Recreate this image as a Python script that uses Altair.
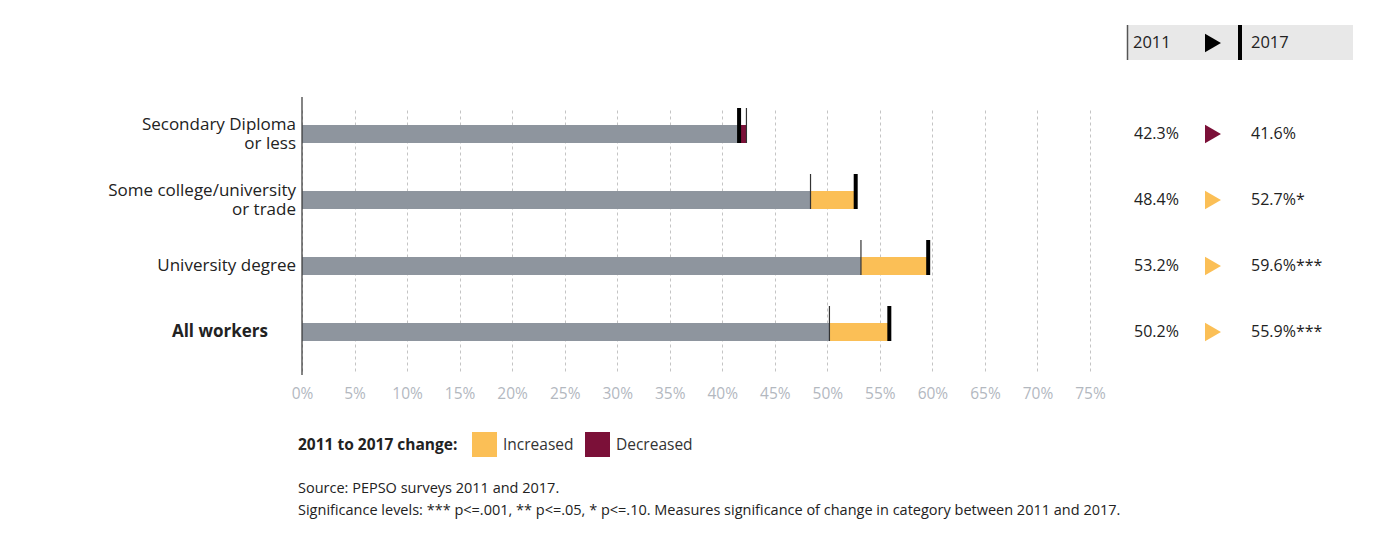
import altair as alt
import pandas as pd

# ---------------- data ----------------
keys = ["sec", "some", "univ", "all"]
labels = ["Secondary Diploma\nor less", "Some college/university\nor trade", "University degree", "All workers"]
v2011 = [42.3, 48.4, 53.2, 50.2]
v2017 = [41.6, 52.7, 59.6, 55.9]
sig = ["", "*", "***", "***"]
x_ticks = list(range(0, 80, 5))
change_names = ["Increased", "Decreased"]
change_colors = ["#fbbf56", "#7b1038"]
legend_title = "2011 to 2017 change:"
header_years = ["2011", "2017"]
source_lines = [
    "Source: PEPSO surveys 2011 and 2017.",
    "Significance levels: *** p<=.001, ** p<=.05, * p<=.10. Measures significance of change in category between 2011 and 2017.",
]

FONT = "Open Sans"
GRAY = "#8e959e"

df = pd.DataFrame({
    "key": keys,
    "label": labels,
    "v2011": v2011,
    "v2017": v2017,
})
df["low"] = df[["v2011", "v2017"]].min(axis=1)
df["high"] = df[["v2011", "v2017"]].max(axis=1)
df["change"] = ["Increased" if b > a else "Decreased" for a, b in zip(v2011, v2017)]
df["t2011"] = [f"{v:.1f}%" for v in v2011]
df["t2017"] = [f"{v:.1f}%{s}" for v, s in zip(v2017, sig)]
df["multiline"] = ["\n" in s for s in labels]

hdr = pd.DataFrame({"y1": [header_years[0]], "y2": [header_years[1]]})
src = pd.DataFrame({"txt": ["\n".join(source_lines)]})

base = alt.Chart(df)

Y = alt.Y("key:N", scale=alt.Scale(type="band", domain=keys, range=[4, 268],
                                   paddingInner=0, paddingOuter=0), axis=None)
xscale = alt.Scale(domain=[0, 75], nice=False, zero=True)
X = alt.X(
    "low:Q",
    scale=xscale,
    axis=alt.Axis(
        values=x_ticks, labelExpr="datum.value + '%'", grid=True, gridDash=[3, 3],
        gridColor="#c4c4c4", gridWidth=1, domain=False, ticks=False, labelFlush=False,
        labelColor="#b3b8bf", labelFontSize=15.5, labelPadding=11, title=None, labelFont=FONT,
    ),
)

gray_bar = base.mark_bar(size=18, color=GRAY).encode(x=X, y=Y)

change_bar = base.mark_bar(size=18).encode(
    x=alt.X("low:Q", scale=xscale),
    x2="high:Q",
    y=Y,
    color=alt.Color(
        "change:N",
        scale=alt.Scale(domain=change_names, range=change_colors),
        legend=alt.Legend(
            title=legend_title, orient="none", legendX=-4, legendY=335,
            direction="horizontal", titleOrient="left", symbolType="square",
            symbolSize=625, symbolStrokeWidth=0, symbolOpacity=1,
            labelFontSize=15.5, labelColor="#333333", labelOffset=6, labelFont=FONT,
            columnPadding=11, titleFontSize=15.5, titleFontWeight="bold",
            titleColor="#222222", titlePadding=14, titleFont=FONT, padding=0,
        ),
    ),
)

tick11 = base.mark_tick(size=35, thickness=1.2, yOffset=-8.5, color="#333333", opacity=1).encode(
    x=alt.X("v2011:Q", scale=xscale), y=Y)
tick17 = base.mark_tick(size=35, thickness=4, yOffset=-8.5, color="#000000", opacity=1).encode(
    x=alt.X("v2017:Q", scale=xscale), y=Y)

yaxis_line = alt.Chart(hdr).mark_rule(color="#333333", strokeWidth=1.2).encode(
    x=alt.datum(0, scale=xscale))

ylab_multi = base.transform_filter("datum.multiline").mark_text(
    align="right", baseline="middle", lineBreak="\n", fontSize=17, color="#222222",
    lineHeight=19, dy=-9.5, font=FONT).encode(x=alt.value(-6), y=Y, text="label:N")
ylab_single = base.transform_filter("!datum.multiline && datum.key != 'all'").mark_text(
    align="right", baseline="middle", fontSize=17, color="#222222",
    font=FONT).encode(x=alt.value(-6), y=Y, text="label:N")
ylab_bold = base.transform_filter("datum.key == 'all'").mark_text(
    align="right", baseline="middle", fontSize=17, fontWeight="bold", color="#222222",
    font=FONT).encode(x=alt.value(-34), y=Y, text="label:N")

t11 = base.mark_text(align="left", baseline="middle", fontSize=16, color="#222222", font=FONT).encode(
    x=alt.value(832), y=Y, text="t2011:N")
t17 = base.mark_text(align="left", baseline="middle", fontSize=16, color="#222222", font=FONT).encode(
    x=alt.value(949), y=Y, text="t2017:N")
tri = base.mark_point(shape="triangle-right", filled=True, size=340, opacity=1).encode(
    x=alt.value(911), y=Y,
    color=alt.condition("datum.change == 'Increased'", alt.value(change_colors[0]), alt.value(change_colors[1])),
)

hbase = alt.Chart(hdr)
hrect = hbase.mark_rect(color="#e8e8e8").encode(
    x=alt.value(825), x2=alt.value(1051), y=alt.value(-72), y2=alt.value(-37))
hline1 = hbase.mark_rule(color="#555555", strokeWidth=1.5).encode(
    x=alt.value(825.5), y=alt.value(-72), y2=alt.value(-37))
hline2 = hbase.mark_rule(color="#000000", strokeWidth=4).encode(
    x=alt.value(938), y=alt.value(-72), y2=alt.value(-37))
htxt1 = hbase.mark_text(align="left", baseline="middle", fontSize=16.5, color="#222222", font=FONT).encode(
    x=alt.value(831), y=alt.value(-54), text="y1:N")
htxt2 = hbase.mark_text(align="left", baseline="middle", fontSize=16.5, color="#222222", font=FONT).encode(
    x=alt.value(949), y=alt.value(-54), text="y2:N")
htri = hbase.mark_point(shape="triangle-right", filled=True, size=340, color="#000000", opacity=1).encode(
    x=alt.value(911), y=alt.value(-54))

source = alt.Chart(src).mark_text(
    align="left", baseline="middle", lineBreak="\n", lineHeight=22, fontSize=14.5,
    color="#222222", font=FONT).encode(x=alt.value(-4), y=alt.value(392), text="txt:N")

chart = alt.layer(
    gray_bar, change_bar, yaxis_line, tick11, tick17, ylab_multi, ylab_single, ylab_bold,
    t11, tri, t17, hrect, hline1, hline2, htxt1, htri, htxt2, source,
).properties(
    width=788, height=278,
    autosize=alt.AutoSizeParams(type="none"),
    padding={"left": 294, "top": 89, "right": 268, "bottom": 150},
    background="white",
).configure(font=FONT).configure_view(stroke=None)

chart.save("out.html", embed_options={"renderer": "svg", "actions": False})
